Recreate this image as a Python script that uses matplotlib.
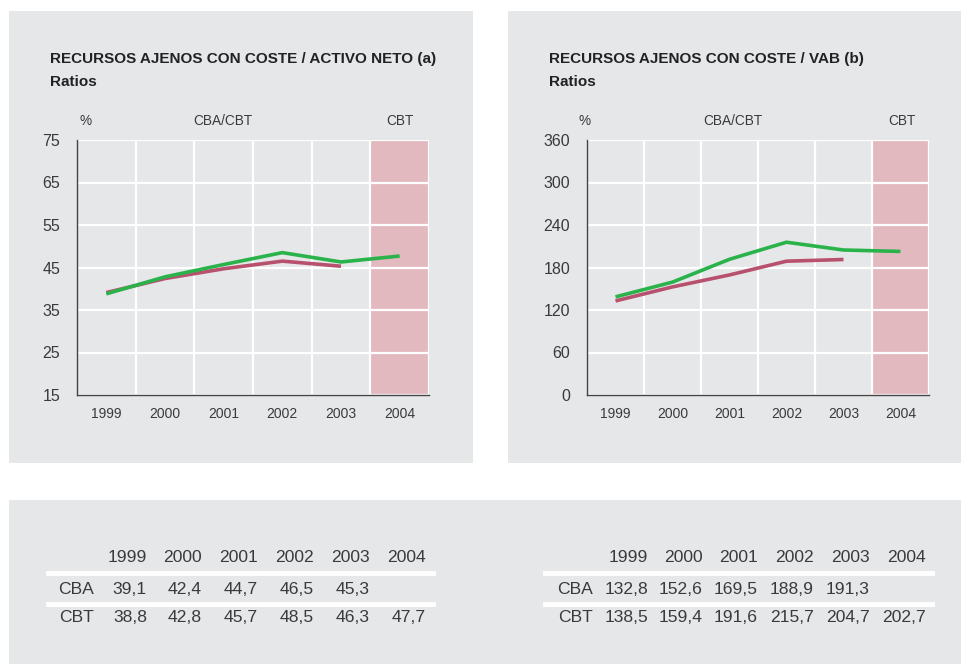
import matplotlib.pyplot as plt
from matplotlib.patches import Rectangle
import numpy as np

plt.rcParams['font.family'] = ['Liberation Sans', 'DejaVu Sans']

years = ['1999', '2000', '2001', '2002', '2003', '2004']

# recursos ajenos con coste / activo neto (a)
cba_a = [39.1, 42.4, 44.7, 46.5, 45.3]
cbt_a = [38.8, 42.8, 45.7, 48.5, 46.3, 47.7]

# recursos ajenos con coste / VAB (b)
cba_b = [132.8, 152.6, 169.5, 188.9, 191.3]
cbt_b = [138.5, 159.4, 191.6, 215.7, 204.7, 202.7]

W, H = 962, 664
GRAY = '#e6e7e9'
PINK = '#e3b9c0'
GREEN = '#2bb34b'
RED = '#b8516e'
TXT = '#3a3a3a'

fig = plt.figure(figsize=(W / 100, H / 100), dpi=100)
fig.patch.set_facecolor('white')


def px_rect(x0, y0, x1, y1):
    return [x0 / W, 1 - y1 / H, (x1 - x0) / W, (y1 - y0) / H]


def panel(x0, y0, x1, y1):
    l, b, w, h = px_rect(x0, y0, x1, y1)
    fig.add_artist(Rectangle((l, b), w, h, transform=fig.transFigure,
                             facecolor=GRAY, edgecolor='none', zorder=0))


def fx(x):
    return x / W


def fy(y):
    return 1 - y / H


panel(9, 11, 473, 463)
panel(508, 11, 962, 463)
panel(9, 500, 962, 664)


def chart(rect, title, tx, yticks, cba, cbt, pct_x, mid_x, cbt_x):
    ax = fig.add_axes(px_rect(*rect))
    ax.set_facecolor(GRAY)
    ax.set_xlim(0, 6)
    ax.set_ylim(yticks[0], yticks[-1])
    ax.axvspan(5, 6, color=PINK, zorder=0.2, lw=0)
    ax.set_axisbelow(True)
    ax.set_yticks(yticks)
    ax.set_yticklabels([str(t) for t in yticks], fontsize=11.5, color=TXT)
    ax.set_xticks(np.arange(6) + 0.5)
    ax.set_xticklabels(years, fontsize=10, color=TXT)
    ax.set_xticks(np.arange(1, 7), minor=True)
    ax.tick_params(which='both', length=0)
    ax.tick_params(axis='x', pad=9)
    ax.tick_params(axis='y', pad=12)
    ax.grid(axis='y', color='white', lw=1.6)
    ax.grid(axis='x', which='minor', color='white', lw=1.6)
    ax.grid(axis='x', which='major', visible=False)
    for s in ['top', 'right']:
        ax.spines[s].set_visible(False)
    for s in ['left', 'bottom']:
        ax.spines[s].set_color('#444444')
        ax.spines[s].set_linewidth(1.0)
        ax.spines[s].set_zorder(3)
    xs = np.arange(6) + 0.5
    ax.plot(xs[:len(cba)], cba, color=RED, lw=2.6, zorder=4, solid_capstyle='butt')
    ax.plot(xs[:len(cbt)], cbt, color=GREEN, lw=2.6, zorder=5, solid_capstyle='butt')

    fig.text(fx(tx), fy(63), title, fontsize=11, fontweight='bold', color='#222222')
    fig.text(fx(tx), fy(86), 'Ratios', fontsize=11, fontweight='bold', color='#222222')
    fig.text(fx(pct_x), fy(121), '%', fontsize=9.8, color=TXT, ha='center', va='center')
    fig.text(fx(mid_x), fy(121), 'CBA/CBT', fontsize=9.8, color=TXT, ha='center', va='center')
    fig.text(fx(cbt_x), fy(121), 'CBT', fontsize=9.8, color=TXT, ha='center', va='center')
    return ax


chart((77, 140, 429, 395), 'RECURSOS AJENOS CON COSTE / ACTIVO NETO (a)', 50,
      [15, 25, 35, 45, 55, 65, 75], cba_a, cbt_a, 86, 223, 400)
chart((587, 140, 929, 395), 'RECURSOS AJENOS CON COSTE / VAB (b)', 549,
      [0, 60, 120, 180, 240, 300, 360], cba_b, cbt_b, 585, 733, 902)


def fmt(v):
    return f'{v:.1f}'.replace('.', ',')


def table(col_right, lab_right, line_x0, line_x1, cba, cbt):
    fs = 12.6
    for i, yr in enumerate(years):
        fig.text(fx(col_right[i]), fy(558), yr, fontsize=fs, color=TXT,
                 ha='right', va='center')
    for i, v in enumerate(cba):
        fig.text(fx(col_right[i]), fy(589), fmt(v), fontsize=fs, color=TXT,
                 ha='right', va='center')
    for i, v in enumerate(cbt):
        fig.text(fx(col_right[i]), fy(618), fmt(v), fontsize=fs, color=TXT,
                 ha='right', va='center')
    fig.text(fx(lab_right), fy(589), 'CBA', fontsize=fs, color=TXT, ha='right', va='center')
    fig.text(fx(lab_right), fy(618), 'CBT', fontsize=fs, color=TXT, ha='right', va='center')
    for yl in (573, 604):
        fig.add_artist(plt.Line2D([fx(line_x0), fx(line_x1)], [fy(yl), fy(yl)],
                                  transform=fig.transFigure, color='white', lw=3.5))


table([147, 202, 258, 314, 370, 426], 94, 48, 433, cba_a, cbt_a)
table([648, 703, 758, 814, 870, 926], 593, 545, 932, cba_b, cbt_b)

fig.savefig('out.png', dpi=100)
